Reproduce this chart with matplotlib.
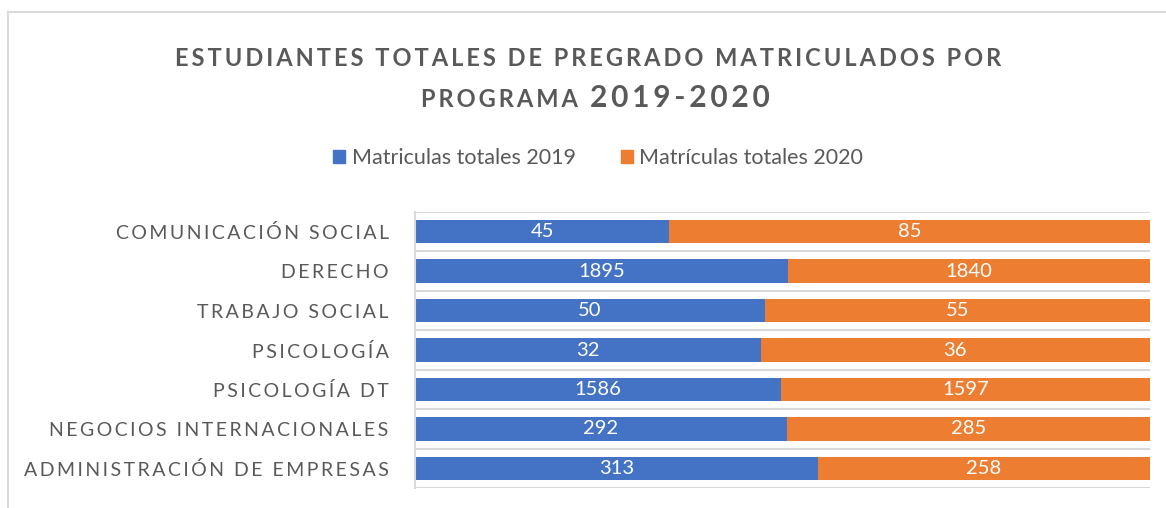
import matplotlib.pyplot as plt
from matplotlib.lines import Line2D
from matplotlib.patches import Patch
import numpy as np

# Data
programas = ["COMUNICACIÓN SOCIAL", "DERECHO", "TRABAJO SOCIAL", "PSICOLOGÍA",
             "PSICOLOGÍA DT", "NEGOCIOS INTERNACIONALES", "ADMINISTRACIÓN DE EMPRESAS"]
matriculas_2019 = [45, 1895, 50, 32, 1586, 292, 313]
matriculas_2020 = [85, 1840, 55, 36, 1597, 285, 258]
serie_labels = ["Matriculas totales 2019", "Matrículas totales 2020"]

BLUE = "#4472C4"
ORANGE = "#ED7D31"
GREY_TXT = "#595959"
GRID = "#D9D9D9"
FAM = ["Lato", "DejaVu Sans"]


def spaced(s, sep="\u2009"):
    # imitate the letter spacing used in the original chart
    return sep.join(s)


v19 = np.array(matriculas_2019, dtype=float)
v20 = np.array(matriculas_2020, dtype=float)
share19 = v19 / (v19 + v20)
share20 = v20 / (v19 + v20)

fig = plt.figure(figsize=(11.66, 5.08), dpi=100)
ax = fig.add_axes([0.356, 0.039, 0.63, 0.544])

y = np.arange(len(programas))
b1 = ax.barh(y, share19, height=0.6, color=BLUE)
b2 = ax.barh(y, share20, left=share19, height=0.6, color=ORANGE)
ax.bar_label(b1, labels=[str(v) for v in matriculas_2019], label_type="center",
             color="white", fontsize=14.5, family=FAM)
ax.bar_label(b2, labels=[str(v) for v in matriculas_2020], label_type="center",
             color="white", fontsize=14.5, family=FAM)

ax.set_xlim(0, 1)
ax.set_ylim(len(programas) - 0.5, -0.5)
ax.set_xticks([])
ax.set_yticks(y)
ax.set_yticklabels([spaced(p) for p in programas], fontsize=14, color=GREY_TXT,
                   family=FAM)
ax.tick_params(axis="y", length=0, pad=19)

for s in ["top", "right", "bottom"]:
    ax.spines[s].set_visible(False)
ax.spines["left"].set_color(GRID)
ax.spines["left"].set_linewidth(1.5)
for b in np.arange(len(programas) + 1) - 0.5:
    ax.axhline(b, color=GRID, lw=1.5, zorder=0)

# title: two lines, the years bigger
fig.text(0.504, 0.885, spaced("ESTUDIANTES TOTALES DE PREGRADO MATRICULADOS POR"),
         ha="center", va="center", fontsize=17, fontweight="bold", color=GREY_TXT,
         family=FAM)
fig.text(0.496, 0.804, spaced("PROGRAMA"), ha="right", va="center", fontsize=17,
         fontweight="bold", color=GREY_TXT, family=FAM)
fig.text(0.506, 0.808, spaced("2019-2020"), ha="left", va="center", fontsize=21.5,
         fontweight="bold", color=GREY_TXT, family=FAM)

handles = [Patch(color=BLUE), Patch(color=ORANGE)]
fig.legend(handles, serie_labels, loc="center", bbox_to_anchor=(0.513, 0.689), ncol=2,
           frameon=False, prop={"family": FAM, "size": 15.5}, labelcolor=GREY_TXT,
           handlelength=0.56, handleheight=0.56, handletextpad=0.3, columnspacing=2.1)

# chart area border
fig.add_artist(Line2D([0.0069, 1.0], [0.976, 0.976], color=GRID, lw=1.5))
fig.add_artist(Line2D([0.0069, 0.0069], [0.0, 0.976], color=GRID, lw=1.5))

fig.savefig("out.png", dpi=100)
